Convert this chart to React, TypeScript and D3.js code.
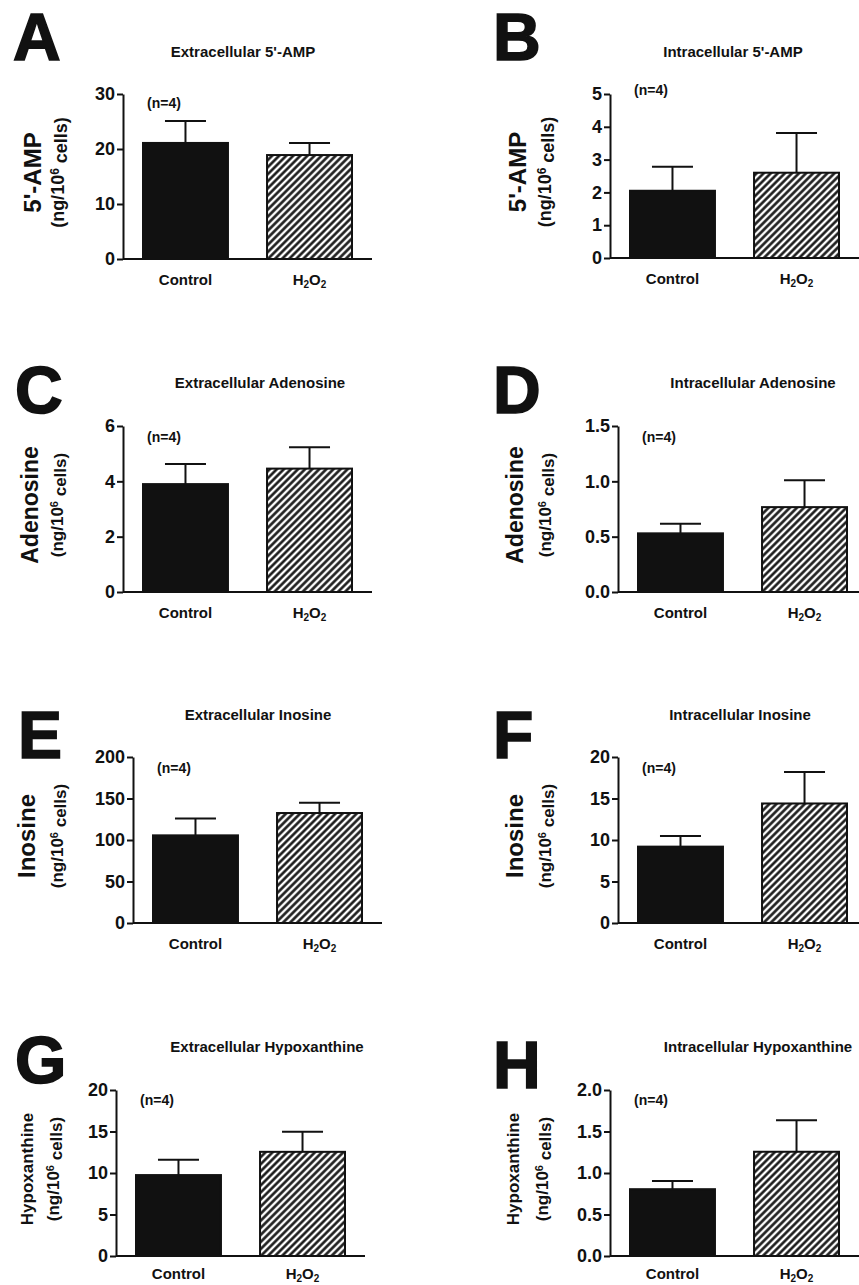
import React, { useRef, useEffect } from "react";
import * as d3 from "d3";

// data
const groups = ["Control", "H2O2"];
const letters = ["A", "B", "C", "D", "E", "F", "G", "H"];
const titles = [
  "Extracellular 5'-AMP",
  "Intracellular 5'-AMP",
  "Extracellular Adenosine",
  "Intracellular Adenosine",
  "Extracellular Inosine",
  "Intracellular Inosine",
  "Extracellular Hypoxanthine",
  "Intracellular Hypoxanthine",
];
const yNames = ["5'-AMP", "5'-AMP", "Adenosine", "Adenosine", "Inosine", "Inosine", "Hypoxanthine", "Hypoxanthine"];
const yMax = [30, 5, 6, 1.5, 200, 20, 20, 2.0];
const yTicks = [
  [0, 10, 20, 30],
  [0, 1, 2, 3, 4, 5],
  [0, 2, 4, 6],
  [0, 0.5, 1.0, 1.5],
  [0, 50, 100, 150, 200],
  [0, 5, 10, 15, 20],
  [0, 5, 10, 15, 20],
  [0, 0.5, 1.0, 1.5, 2.0],
];
const tickDigits = [0, 0, 0, 1, 0, 0, 0, 1];
const controlMean = [21.1, 2.05, 3.9, 0.53, 105.6, 9.2, 9.75, 0.805];
const controlSem = [4.0, 0.73, 0.73, 0.086, 20.4, 1.28, 1.85, 0.1];
const h2o2Mean = [18.9, 2.6, 4.46, 0.767, 132.5, 14.4, 12.55, 1.256];
const h2o2Sem = [2.2, 1.21, 0.77, 0.243, 12.5, 3.8, 2.42, 0.38];
const nText = "(n=4)";

// layout of each panel
const axisX = [123, 610, 123, 618, 133, 618, 116, 610];
const baseY = [259, 258, 592, 592, 923, 923, 1256, 1256];
const topY = [94, 94, 426, 426, 757, 757, 1090, 1090];
const letterX = [13, 493, 15, 493, 18, 493, 15, 493];
const letterY = [60, 60, 413, 413, 758, 758, 1083, 1088];
const titleX = [243, 733, 260, 753, 258, 740, 267, 758];
const titleY = [57, 57, 388, 388, 720, 720, 1052, 1052];
const nOffsetY = [9, -4, 11, 11, 11, 11, 10, 10];
const catOffsetY = [26, 26, 26, 26, 26, 26, 23, 23];
const labelOffsets = [[-90, -65], [-92, -65], [-93, -66], [-103, -73], [-106, -76], [-103, -73], [-89, -63], [-97, -68]];
const labelSizes = [[24, 18], [24, 18], [23, 17], [23, 17], [24, 17], [24, 17], [17, 17], [17, 17]];

const FONT = "'Liberation Sans', Arial, Helvetica, sans-serif";
const INK = "#111";
const HATCH = 5;

const App = () => {
  const ref = useRef<SVGSVGElement>(null);

  useEffect(() => {
    const svg = d3.select(ref.current);
    svg.selectAll("*").remove();

    const defs = svg.append("defs");
    const pat = defs.append("pattern")
      .attr("id", "hatch")
      .attr("patternUnits", "userSpaceOnUse")
      .attr("width", HATCH)
      .attr("height", HATCH)
      .attr("patternTransform", "rotate(45)");
    pat.append("rect").attr("width", HATCH).attr("height", HATCH).attr("fill", "#fff");
    pat.append("line")
      .attr("x1", HATCH / 2).attr("x2", HATCH / 2).attr("y1", 0).attr("y2", HATCH)
      .attr("stroke", INK).attr("stroke-width", 2.5);

    letters.forEach((letter, i) => {
      const g = svg.append("g").style("font-family", FONT).attr("fill", INK);
      const x0 = axisX[i];

      const y = d3.scaleLinear().domain([0, yMax[i]]).range([baseY[i], topY[i]]);
      const x = d3.scaleBand()
        .domain(groups)
        .range([x0 + 20, x0 + 229])
        .paddingInner(0.315)
        .paddingOuter(0);

      // panel letter
      g.append("text")
        .attr("x", letterX[i])
        .attr("y", letterY[i])
        .style("font-size", "66px")
        .style("font-weight", "bold")
        .attr("stroke", INK)
        .attr("stroke-width", 1.6)
        .text(letter);

      // title
      g.append("text")
        .attr("x", titleX[i])
        .attr("y", titleY[i])
        .attr("text-anchor", "middle")
        .style("font-size", "15px")
        .style("font-weight", "bold")
        .text(titles[i]);

      // bars
      const means = [controlMean[i], h2o2Mean[i]];
      const sems = [controlSem[i], h2o2Sem[i]];
      groups.forEach((grp, k) => {
        const bx = x(grp)!;
        const bw = x.bandwidth();
        const cx = bx + bw / 2;
        const top = y(means[k] + sems[k]);
        g.append("line")
          .attr("x1", cx).attr("x2", cx)
          .attr("y1", y(means[k])).attr("y2", top)
          .attr("stroke", INK).attr("stroke-width", 2);
        g.append("line")
          .attr("x1", cx - 20.5).attr("x2", cx + 20.5)
          .attr("y1", top).attr("y2", top)
          .attr("stroke", INK).attr("stroke-width", 2);
        g.append("rect")
          .attr("x", bx)
          .attr("y", y(means[k]))
          .attr("width", bw)
          .attr("height", y(0) - y(means[k]))
          .attr("fill", k === 0 ? INK : "url(#hatch)")
          .attr("stroke", INK)
          .attr("stroke-width", 2);

        // category label
        const lbl = g.append("text")
          .attr("x", cx)
          .attr("y", baseY[i] + catOffsetY[i])
          .attr("text-anchor", "middle")
          .style("font-size", "15px")
          .style("font-weight", "bold");
        if (grp === "H2O2") {
          lbl.append("tspan").text("H");
          lbl.append("tspan").attr("dy", 3).style("font-size", "10px").text("2");
          lbl.append("tspan").attr("dy", -3).text("O");
          lbl.append("tspan").attr("dy", 3).style("font-size", "10px").text("2");
        } else {
          lbl.text(grp);
        }
      });

      // y axis
      const fmt = d3.format(`.${tickDigits[i]}f`);
      const yAxis = g.append("g")
        .attr("transform", `translate(${x0},0)`)
        .call(d3.axisLeft(y).tickValues(yTicks[i]).tickSize(6).tickSizeOuter(0).tickPadding(2).tickFormat(d => fmt(d as number)));
      yAxis.select(".domain").attr("stroke", INK).attr("stroke-width", 2);
      yAxis.selectAll(".tick line").attr("stroke", INK).attr("stroke-width", 2);
      yAxis.selectAll(".tick text")
        .attr("fill", INK)
        .style("font-family", FONT)
        .style("font-size", "18px")
        .style("font-weight", "bold");

      // x baseline
      g.append("line")
        .attr("x1", x0).attr("x2", x0 + 249)
        .attr("y1", baseY[i]).attr("y2", baseY[i])
        .attr("stroke", INK).attr("stroke-width", 2);

      // n label
      g.append("text")
        .attr("x", x0 + 41)
        .attr("y", topY[i] + nOffsetY[i])
        .attr("dy", "0.35em")
        .attr("text-anchor", "middle")
        .style("font-size", "14px")
        .style("font-weight", "bold")
        .text(nText);

      // y axis titles
      const midY = (baseY[i] + topY[i]) / 2 - 4;
      const [o1, o2] = labelOffsets[i];
      const [s1, s2] = labelSizes[i];
      g.append("text")
        .attr("transform", `translate(${x0 + o1},${midY}) rotate(-90)`)
        .attr("dy", "0.35em")
        .attr("text-anchor", "middle")
        .style("font-size", `${s1}px`)
        .style("font-weight", "bold")
        .text(yNames[i]);
      const sub = g.append("text")
        .attr("transform", `translate(${x0 + o2},${midY}) rotate(-90)`)
        .attr("dy", "0.35em")
        .attr("text-anchor", "middle")
        .style("font-size", `${s2}px`)
        .style("font-weight", "bold");
      sub.append("tspan").text("(ng/10");
      sub.append("tspan").attr("dy", "-0.45em").style("font-size", `${Math.round(s2 * 0.65)}px`).text("6");
      sub.append("tspan").attr("dy", "0.45em").text(" cells)");
    });
  }, []);

  return (
    <svg
      ref={ref}
      width={859}
      height={1285}
      style={{ position: "absolute", left: 0, top: 0, background: "#fff" }}
    />
  );
};

export default App;
